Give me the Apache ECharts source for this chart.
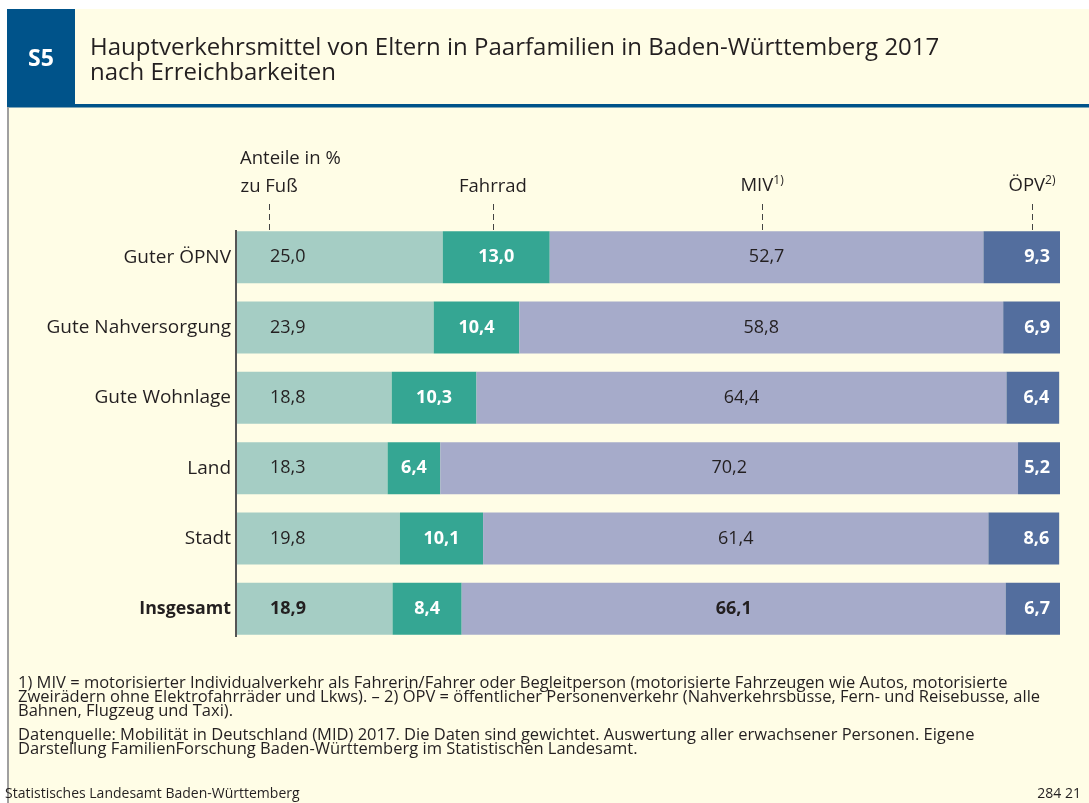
<!DOCTYPE html>
<html>
<head>
<meta charset="utf-8">
<script src="https://cdn.jsdelivr.net/npm/echarts@6/dist/echarts.min.js"></script>
<style>
  html, body { margin: 0; padding: 0; background: #fff; }
  #chart { width: 1089px; height: 803px; }
</style>
</head>
<body>
<div id="chart"></div>
<script>
// Hauptverkehrsmittel nach Erreichbarkeiten, Anteile in %
const categories = ['Guter ÖPNV', 'Gute Nahversorgung', 'Gute Wohnlage', 'Land', 'Stadt', 'Insgesamt']
const zuFuss = [25.0, 23.9, 18.8, 18.3, 19.8, 18.9]
const fahrrad = [13.0, 10.4, 10.3, 6.4, 10.1, 8.4]
const miv = [52.7, 58.8, 64.4, 70.2, 61.4, 66.1]
const oepv = [9.3, 6.9, 6.4, 5.2, 8.6, 6.7]

// Zeiger oben: Position (in %) und Beschriftung
const pointerPos = [3.9, 31.1, 63.8, 96.6]
const pointerLabels = ['zu Fuß', 'Fahrrad', 'MIV{sup|1)}', 'ÖPV{sup|2)}']

const FONT = "'Open Sans', 'Noto Sans', sans-serif"
const TEXT = '#231f20'
const BG = '#fffde6'
const BLUE = '#00538a'

const fmt = v => v.toFixed(1).replace('.', ',')
const totalIdx = categories.indexOf('Insgesamt')

function withBold(values) {
  return values.map((v, i) => i === totalIdx
    ? { value: v, label: { fontWeight: 'bold' } }
    : v)
}

function barSeries(name, values, color, labelColor, labelWeight, labelPos, labelDist) {
  return {
    name: name,
    type: 'bar',
    stack: 'total',
    barWidth: 52,
    xAxisIndex: 0,
    yAxisIndex: 0,
    itemStyle: { color: color },
    label: {
      show: true,
      position: labelPos,
      distance: labelDist,
      color: labelColor,
      fontWeight: labelWeight,
      fontSize: 18,
      fontFamily: FONT,
      formatter: p => fmt(p.value)
    },
    data: withBold(values)
  }
}

const chart = echarts.init(document.getElementById('chart'), null, { renderer: 'canvas' })

const option = {
  backgroundColor: BG,
  animation: false,
  textStyle: { fontFamily: FONT, color: TEXT },
  grid: [
    { left: 237, right: 29, top: 222, bottom: 159 },
    { left: 237, right: 29, top: 200, height: 30 }
  ],
  xAxis: [
    { type: 'value', gridIndex: 0, min: 0, max: 100, show: false },
    { type: 'value', gridIndex: 1, min: 0, max: 100, show: false }
  ],
  yAxis: [
    {
      type: 'category',
      gridIndex: 0,
      inverse: true,
      data: categories,
      axisLine: { show: false },
      axisTick: { show: false },
      axisLabel: {
        margin: 6,
        fontSize: 19,
        fontFamily: FONT,
        color: TEXT,
        formatter: v => v === 'Insgesamt' ? '{b|' + v + '}' : v,
        rich: { b: { fontWeight: 'bold', fontSize: 17.8, fontFamily: FONT, color: TEXT } }
      }
    },
    { type: 'value', gridIndex: 1, min: 0, max: 1, show: false }
  ],
  series: [
    barSeries('zu Fuß', zuFuss, '#a5cdc4', TEXT, 'normal', 'insideLeft', 33),
    barSeries('Fahrrad', fahrrad, '#35a693', '#ffffff', 'bold', 'inside', 0),
    barSeries('MIV', miv, '#a6abca', TEXT, 'normal', 'inside', 0),
    barSeries('ÖPV', oepv, '#536e9e', '#ffffff', 'bold', 'insideRight', 10),
    {
      type: 'line',
      xAxisIndex: 1,
      yAxisIndex: 1,
      data: [],
      silent: true,
      markLine: {
        symbol: 'none',
        silent: true,
        animation: false,
        lineStyle: { color: '#444', type: [6, 4], width: 1 },
        label: {
          position: 'end',
          distance: 4,
          fontSize: 18.5,
          fontFamily: FONT,
          color: TEXT,
          rich: { sup: { fontSize: 12, verticalAlign: 'top', padding: [0, 0, 9, 0], color: TEXT, fontFamily: FONT } }
        },
        data: pointerPos.map((x, i) => ({ xAxis: x, label: { formatter: pointerLabels[i] } }))
      }
    }
  ],
  graphic: [
    // weißer Rand oben und links
    { type: 'rect', shape: { x: 0, y: 0, width: 1089, height: 9 }, style: { fill: '#ffffff' }, silent: true },
    { type: 'rect', shape: { x: 0, y: 0, width: 7, height: 803 }, style: { fill: '#ffffff' }, silent: true },
    // Kopfzeile
    { type: 'rect', shape: { x: 7, y: 104, width: 1082, height: 3.5 }, style: { fill: BLUE }, silent: true },
    { type: 'rect', shape: { x: 7, y: 9, width: 68, height: 98 }, style: { fill: BLUE }, silent: true },
    { type: 'text', x: 41, y: 59, style: { text: 'S5', fill: '#fff', font: 'bold 23px ' + FONT, align: 'center', verticalAlign: 'middle' } },
    {
      type: 'text', x: 90, y: 36,
      style: {
        text: 'Hauptverkehrsmittel von Eltern in Paarfamilien in Baden-Württemberg 2017\nnach Erreichbarkeiten',
        fill: TEXT, font: '24px ' + FONT, lineHeight: 25
      }
    },
    // linker grauer Rand
    { type: 'rect', shape: { x: 7, y: 107, width: 2, height: 696 }, style: { fill: '#a0a0a0' }, silent: true },
    // Achsenlinie
    { type: 'rect', shape: { x: 235, y: 230, width: 2, height: 407 }, style: { fill: '#555' }, silent: true },
    { type: 'text', x: 240, y: 149, style: { text: 'Anteile in %', fill: TEXT, font: '18.5px ' + FONT } },
    // Fußnoten
    {
      type: 'text', x: 18, y: 676,
      style: {
        text: '1) MIV = motorisierter Individualverkehr als Fahrerin/Fahrer oder Begleitperson (motorisierte Fahrzeugen wie Autos, motorisierte\n' +
          'Zweirädern ohne Elektrofahrräder und Lkws). – 2) ÖPV = öffentlicher Personenverkehr (Nahverkehrsbusse, Fern- und Reisebusse, alle\n' +
          'Bahnen, Flugzeug und Taxi).',
        fill: TEXT, font: '16.5px ' + FONT, lineHeight: 14.2
      }
    },
    {
      type: 'text', x: 18, y: 728,
      style: {
        text: 'Datenquelle: Mobilität in Deutschland (MID) 2017. Die Daten sind gewichtet. Auswertung aller erwachsener Personen. Eigene\n' +
          'Darstellung FamilienForschung Baden-Württemberg im Statistischen Landesamt.',
        fill: TEXT, font: '16.5px ' + FONT, lineHeight: 14.2
      }
    },
    { type: 'text', x: 5, y: 787, style: { text: 'Statistisches Landesamt Baden-Württemberg', fill: TEXT, font: '14px ' + FONT } },
    { type: 'text', x: 1081, y: 787, style: { text: '284 21', fill: TEXT, font: '14px ' + FONT, align: 'right' } }
  ]
}

chart.setOption(option)
</script>
</body>
</html>
